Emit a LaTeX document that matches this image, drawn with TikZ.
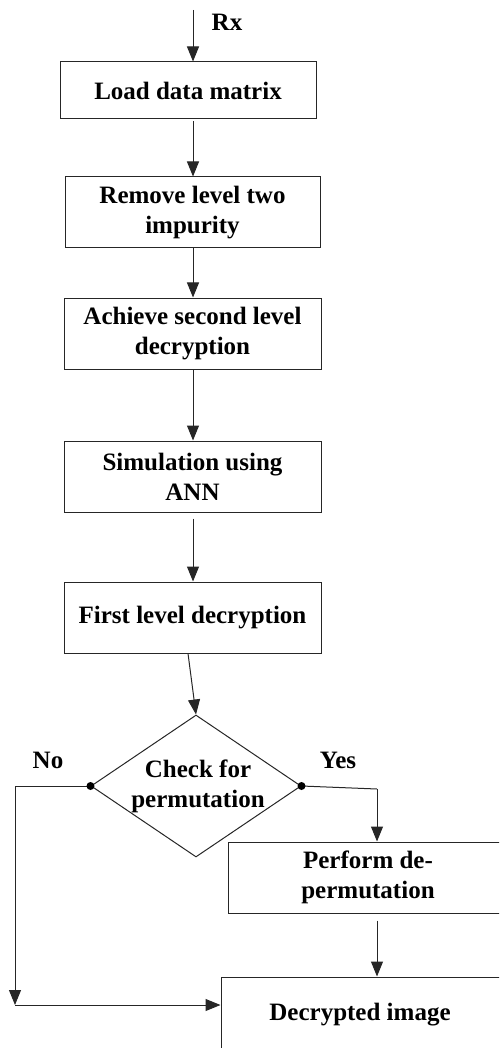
\documentclass[tikz,border=0pt]{standalone}
\usepackage{fontspec}
\setmainfont{Liberation Serif}
\usetikzlibrary{shapes.geometric,arrows.meta,calc}
\begin{document}
\begin{tikzpicture}[x=1pt,y=-1pt,
  every node/.style={font=\fontsize{25}{30}\selectfont\bfseries},
  box/.style={draw=black!85, line width=1pt, align=center, inner sep=0pt},
  conn/.style={draw=black!85, line width=1pt, -{Triangle[length=15pt,width=12pt]}},
  plain/.style={draw=black!85, line width=1pt},
  dot/.style={circle, fill=black, inner sep=0pt, minimum size=8pt}]
\useasboundingbox (0,0) rectangle (499,1048);
\begin{scope}
\clip (0,0) rectangle (499,1048);
\coordinate (top) at (193,10);
\node[box, minimum width=256pt, minimum height=57pt] (b1) at (188,90.5) {Load data matrix};
\node[box, minimum width=255pt, minimum height=71pt] (b2) at (192.5,212.5) {Remove level two\\impurity};
\node[box, minimum width=257pt, minimum height=71pt] (b3) at (192.5,333.5) {Achieve second level\\decryption};
\node[box, minimum width=257pt, minimum height=71pt] (b4) at (192.5,476.5) {Simulation using\\ANN};
\node[box, minimum width=257pt, minimum height=71pt] (b5) at (192.5,617.5) {First level decryption};
\node[draw=black!85, line width=1pt, diamond, minimum width=210pt, minimum height=142pt, inner sep=0pt] (chk) at (196,786) {};
\node[align=center] (chktxt) at (198,786) {Check for\\permutation};
\node[box, minimum width=280pt, minimum height=71pt] (b6) at (368,877.5) {Perform de-\\permutation};
\node[box, minimum width=284pt, minimum height=76pt, text depth=0pt] (b7) at (363,1015) {};
\node (b7txt) at (360,1015) {Decrypted image};
\node (rx) at (227,22) {Rx};
\node (no) at (48,760) {No};
\node (yes) at (338,760) {Yes};

\draw[conn] (top) -- (b1.north -| top);
\draw[conn] ($(b1.south -| top)+(0,2)$) -- (b2.north -| top);
\draw[conn] (b2.south -| top) -- (b3.north -| top);
\draw[conn] (b3.south -| top) -- (b4.north -| top);
\draw[conn] ($(b4.south -| top)+(0,6)$) -- (b5.north -| top);
\draw[conn] ($(b5.south)+(-4.5,0)$) -- (chk.north);

\coordinate (ycorner) at (377,789);
\draw[plain] (chk.east) -- (ycorner);
\draw[conn] (ycorner) -- (b6.north -| ycorner);
\draw[conn] ($(b6.south -| ycorner)+(0,7)$) -- (b7.north -| ycorner);

\coordinate (ncorner) at (15,786);
\coordinate (nlow) at (15,1005);
\draw[plain] (chk.west) -- (ncorner);
\draw[conn] (ncorner) -- (nlow);
\draw[conn] (nlow) -- (b7.west |- nlow);

\node[dot] (dl) at (chk.west) {};
\node[dot] (dr) at (chk.east) {};
\end{scope}
\end{tikzpicture}
\end{document}
